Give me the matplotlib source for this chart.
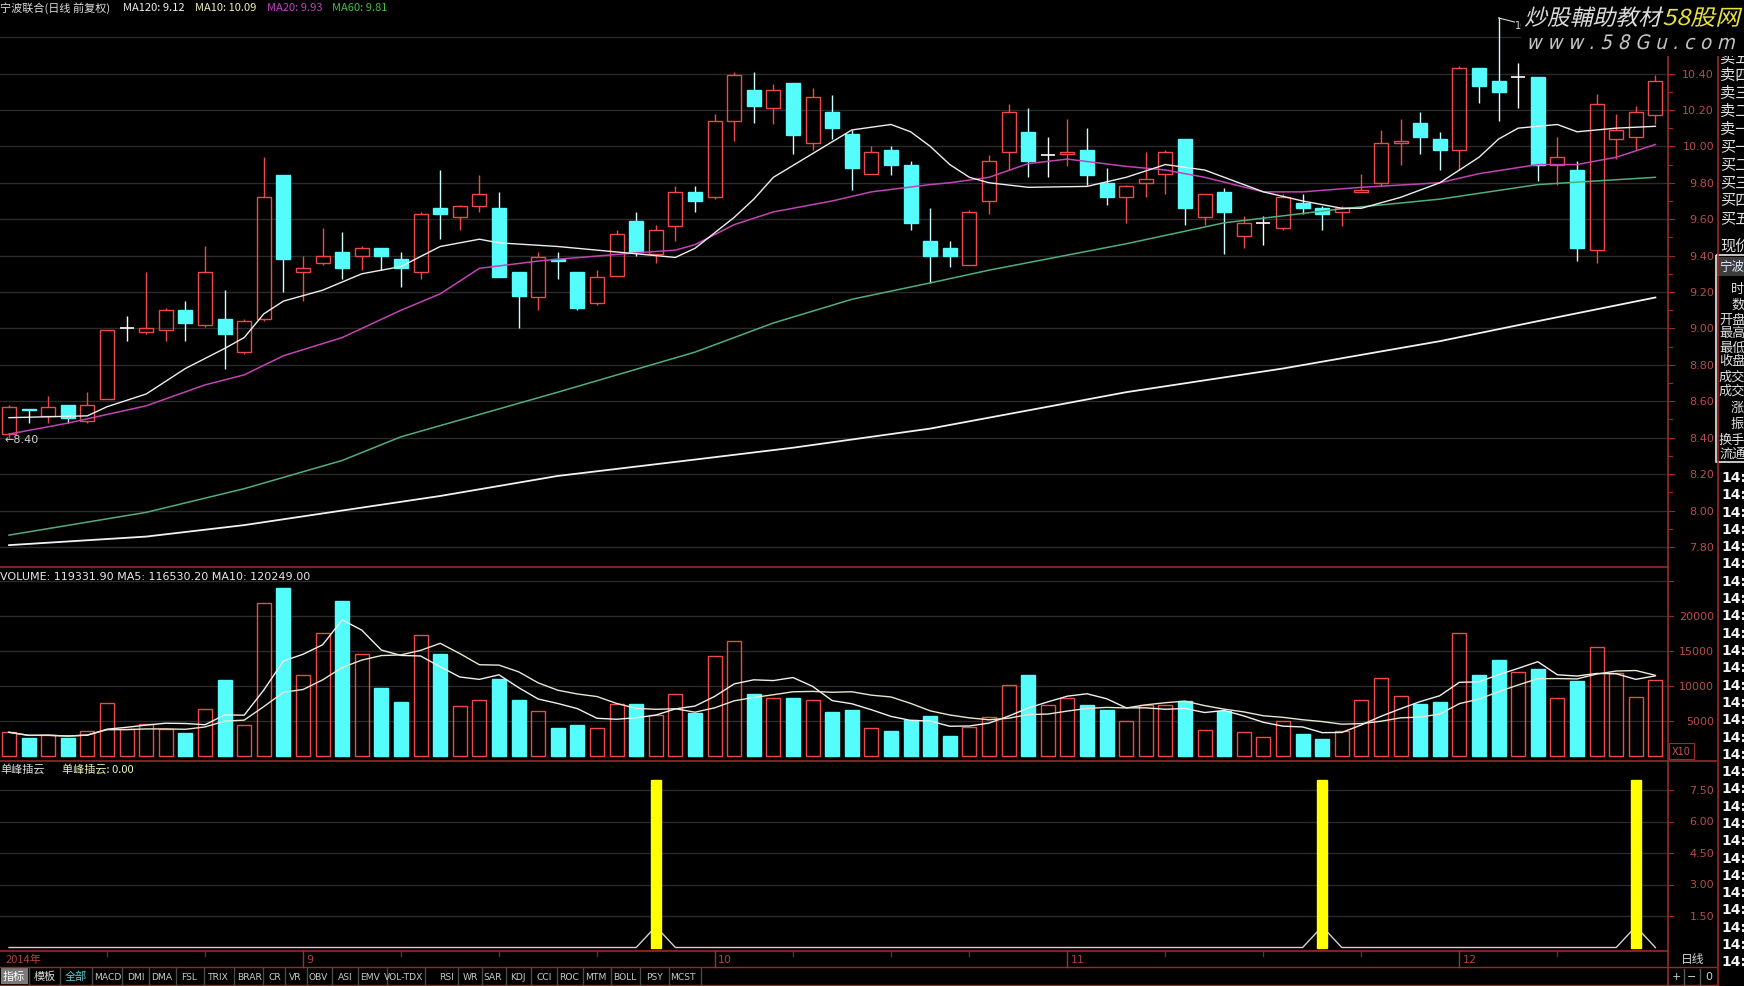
import numpy as np
import pandas as pd
import matplotlib
matplotlib.use('Agg')
import matplotlib.pyplot as plt
import matplotlib.transforms as mtransforms
from matplotlib.patches import Rectangle, PathPatch
from matplotlib.lines import Line2D
from matplotlib.textpath import TextPath
from matplotlib.font_manager import FontProperties

plt.rcParams['font.family'] = ['Noto Sans CJK SC', 'DejaVu Sans']

# ---------------- data ----------------
opens = [8.42, 8.56, 8.52, 8.58, 8.49, 8.61, 9.00, 8.98, 8.99, 9.10,
         9.02, 9.05, 8.87, 9.05, 9.84, 9.31, 9.36, 9.42, 9.40, 9.44,
         9.38, 9.31, 9.66, 9.61, 9.67, 9.66, 9.31, 9.17, 9.38, 9.31,
         9.14, 9.29, 9.59, 9.41, 9.56, 9.75, 9.72, 10.14, 10.31, 10.21,
         10.35, 10.02, 10.19, 10.07, 9.85, 9.98, 9.90, 9.48, 9.44, 9.35,
         9.70, 9.97, 10.08, 9.95, 9.96, 9.98, 9.80, 9.72, 9.80, 9.85,
         10.04, 9.61, 9.75, 9.51, 9.58, 9.55, 9.69, 9.66, 9.64, 9.75,
         9.80, 10.02, 10.13, 10.04, 9.98, 10.43, 10.36, 10.38, 10.38, 9.90,
         9.87, 9.43, 10.04, 10.05, 10.17]
highs = [8.58, 8.56, 8.63, 8.58, 8.65, 8.99, 9.07, 9.31, 9.11, 9.15,
         9.45, 9.21, 9.05, 9.94, 9.84, 9.40, 9.55, 9.53, 9.45, 9.44,
         9.42, 9.64, 9.87, 9.68, 9.84, 9.75, 9.31, 9.42, 9.42, 9.31,
         9.32, 9.54, 9.64, 9.57, 9.78, 9.78, 10.18, 10.41, 10.41, 10.34,
         10.35, 10.32, 10.28, 10.09, 10.00, 10.00, 9.92, 9.66, 9.48, 9.65,
         9.95, 10.23, 10.21, 10.05, 10.15, 10.10, 9.88, 9.79, 9.97, 9.98,
         10.04, 9.74, 9.77, 9.62, 9.62, 9.74, 9.74, 9.67, 9.67, 9.85,
         10.09, 10.15, 10.19, 10.08, 10.44, 10.43, 10.71, 10.46, 10.38, 10.05,
         9.92, 10.29, 10.18, 10.22, 10.39]
lows = [8.40, 8.48, 8.48, 8.48, 8.48, 8.61, 8.93, 8.97, 8.93, 8.93,
        9.01, 8.78, 8.86, 9.04, 9.20, 9.15, 9.35, 9.27, 9.32, 9.32,
        9.23, 9.27, 9.49, 9.54, 9.64, 9.28, 9.00, 9.10, 9.27, 9.10,
        9.13, 9.29, 9.40, 9.36, 9.48, 9.64, 9.71, 10.03, 10.13, 10.12,
        9.96, 9.98, 10.04, 9.76, 9.85, 9.84, 9.54, 9.25, 9.34, 9.35,
        9.63, 9.87, 9.83, 9.83, 9.89, 9.79, 9.68, 9.58, 9.72, 9.74,
        9.57, 9.57, 9.41, 9.44, 9.46, 9.54, 9.63, 9.54, 9.56, 9.75,
        9.78, 9.90, 9.96, 9.87, 9.87, 10.24, 10.14, 10.21, 9.81, 9.79,
        9.37, 9.36, 9.93, 9.98, 10.12]
closes = [8.57, 8.55, 8.57, 8.51, 8.58, 8.99, 9.00, 9.00, 9.10, 9.03,
          9.31, 8.97, 9.04, 9.72, 9.38, 9.33, 9.40, 9.33, 9.44, 9.40,
          9.33, 9.63, 9.63, 9.67, 9.74, 9.28, 9.18, 9.39, 9.37, 9.11,
          9.28, 9.52, 9.42, 9.54, 9.75, 9.70, 10.14, 10.39, 10.22, 10.31,
          10.06, 10.27, 10.10, 9.88, 9.97, 9.90, 9.58, 9.40, 9.40, 9.64,
          9.92, 10.19, 9.92, 9.95, 9.97, 9.84, 9.72, 9.78, 9.82, 9.97,
          9.66, 9.74, 9.64, 9.58, 9.58, 9.72, 9.66, 9.63, 9.66, 9.76,
          10.02, 10.03, 10.05, 9.98, 10.43, 10.33, 10.30, 10.38, 9.90, 9.94,
          9.44, 10.23, 10.09, 10.19, 10.36]
# volume in axis units (x10)
volumes = [3390, 2510, 2990, 2510, 3530, 7600, 3870, 4550, 3870, 3320,
           6720, 10850, 4410, 21840, 24020, 11530, 17640, 22180, 14520, 9770,
           7730, 17230, 14520, 7190, 8070, 10990, 8070, 6380, 4000, 4410,
           4070, 7390, 7460, 5900, 8820, 6110, 14250, 16420, 8820, 8280,
           8280, 7940, 6240, 6580, 4000, 3530, 5090, 5770, 2850, 4210,
           5560, 10110, 11530, 7260, 8280, 7260, 6580, 5020, 7260, 7260,
           7800, 3730, 6450, 3390, 2710, 5020, 3190, 2370, 3530, 8070,
           11190, 8620, 7460, 7730, 17640, 11530, 13700, 12010, 12480, 8280,
           10650, 15540, 11800, 8480, 10790]

# moving-average lines (candle index, value)
ma10_idx = [0, 2, 4, 5, 7, 9, 11, 12, 13, 14, 16, 18, 20, 22, 24, 25, 28, 30, 32, 34,
            35, 37, 38, 39, 41, 43, 45, 46, 47, 48, 49, 50, 52, 55, 57, 59, 61, 64, 66, 68,
            69, 71, 73, 75, 76, 77, 79, 80, 82, 84]
ma10_val = [8.51, 8.515, 8.52, 8.57, 8.64, 8.78, 8.89, 8.95, 9.08, 9.15, 9.21, 9.30, 9.34, 9.45, 9.49, 9.47, 9.45, 9.43, 9.41, 9.39,
            9.44, 9.61, 9.71, 9.83, 9.96, 10.09, 10.12, 10.08, 10.00, 9.90, 9.83, 9.80, 9.775, 9.78, 9.83, 9.90, 9.87, 9.75, 9.70, 9.66,
            9.66, 9.72, 9.80, 9.94, 10.04, 10.10, 10.12, 10.08, 10.10, 10.11]
ma20_idx = [0, 3, 7, 10, 12, 14, 17, 20, 22, 24, 27, 28, 32, 34, 35, 37, 39, 42, 44, 47,
            48, 50, 52, 54, 57, 59, 61, 64, 66, 69, 73, 75, 78, 80, 82, 84]
ma20_val = [8.42, 8.48, 8.575, 8.69, 8.745, 8.85, 8.95, 9.10, 9.19, 9.33, 9.37, 9.38, 9.415, 9.43, 9.46, 9.57, 9.64, 9.70, 9.75, 9.79,
            9.80, 9.83, 9.905, 9.93, 9.89, 9.87, 9.83, 9.75, 9.75, 9.775, 9.80, 9.85, 9.90, 9.90, 9.94, 10.01]
ma60_idx = [0, 7, 12, 17, 20, 28, 35, 39, 43, 47, 50, 57, 62, 68, 73, 78, 84]
ma60_val = [7.865, 7.99, 8.12, 8.275, 8.405, 8.65, 8.87, 9.03, 9.16, 9.25, 9.32, 9.465, 9.58, 9.657, 9.71, 9.79, 9.83]
ma120_idx = [0, 7, 12, 17, 22, 28, 35, 40, 47, 52, 57, 65, 73, 78, 84]
ma120_val = [7.81, 7.857, 7.92, 8.0, 8.08, 8.19, 8.28, 8.345, 8.45, 8.55, 8.65, 8.78, 8.93, 9.04, 9.17]

signal_idx = [33, 67, 83]
signal_bar_value = 8.0
signal_line_value = 1.0

price_ticks = [7.80, 8.00, 8.20, 8.40, 8.60, 8.80, 9.00, 9.20, 9.40, 9.60, 9.80, 10.00, 10.20, 10.40]
price_grid = price_ticks + [10.60]
vol_ticks = [5000, 10000, 15000, 20000]
ind_ticks = [1.50, 3.00, 4.50, 6.00, 7.50]
month_labels = ['9', '10', '11', '12']
month_idx = [15, 36, 54, 74]
week_idx = [5, 10, 20, 25, 30, 40, 45, 49, 59, 64, 69, 79]

header_parts = ['宁波联合(日线 前复权)', 'MA120: 9.12', 'MA10: 10.09', 'MA20: 9.93', 'MA60: 9.81']
vol_header = 'VOLUME: 119331.90 MA5: 116530.20 MA10: 120249.00'
ind_header = ['单峰插云', '单峰插云: 0.00']
tab_labels = ['指标', '模板', '全部', 'MACD', 'DMI', 'DMA', 'FSL', 'TRIX', 'BRAR', 'CR', 'VR', 'OBV', 'ASI',
              'EMV', 'VOL-TDX', 'RSI', 'WR', 'SAR', 'KDJ', 'CCI', 'ROC', 'MTM', 'BOLL', 'PSY', 'MCST']
quote_rows = ['卖五', '卖四', '卖三', '卖二', '卖一', '买一', '买二', '买三', '买四', '买五']
info_rows = ['时间', '数量', '开盘', '最高', '最低', '收盘', '成交量', '成交额', '涨幅', '振幅', '换手率', '流通股']
tick_time = '14:59'

# ---------------- layout ----------------
N = len(closes)
W, H = 1744, 987
X0, DX = 9.0, 19.6                     # pixel centre of first candle and spacing
XMIN = (0 - X0) / DX
XMAX = (1668 - X0) / DX

RED = '#f04848'
CYAN = '#54fcfc'
BORDER = '#9a2a2a'
GRID = '#2a2a2a'
AXLBL = '#b84c4c'

fig = plt.figure(figsize=(W / 100, H / 100), dpi=100, facecolor='black')
pix = mtransforms.Affine2D().scale(1 / W, -1 / H).translate(0, 1) + fig.transFigure


def add_ax(x0, y0, x1, y1, ylim):
    ax = fig.add_axes([x0 / W, 1 - y1 / H, (x1 - x0) / W, (y1 - y0) / H])
    ax.set_facecolor('black')
    ax.axis('off')
    ax.set_xlim(XMIN, XMAX)
    ax.set_ylim(*ylim)
    return ax


def pline(xs, ys, color, lw=1.0, **kw):
    fig.add_artist(Line2D(xs, ys, transform=pix, color=color, lw=lw, **kw))


def ptext(x, y, s, **kw):
    kw.setdefault('va', 'center')
    kw.setdefault('fontsize', 8)
    fig.text(x, y, s, transform=pix, **kw)


# price panel: pixel 18..568 ; price(y) = 10.40 - (y-74.5)/182.1
def p_at(y):
    return 10.40 - (y - 74.5) / 182.1


ax_p = add_ax(0, 18, 1668, 568, (p_at(568), p_at(18)))
ax_v = add_ax(0, 568, 1668, 762, ((757 - 762) / 35 * 5000, (757 - 568) / 35 * 5000))
ax_i = add_ax(0, 762, 1668, 952, ((948.5 - 952) / 21, (948.5 - 762) / 21))

for lv in price_grid:
    ax_p.axhline(lv, color=GRID, lw=1, zorder=0)
for lv in vol_ticks + [25000]:
    ax_v.axhline(lv, color=GRID, lw=1, zorder=0)
for lv in ind_ticks:
    ax_i.axhline(lv, color=GRID, lw=1, zorder=0)

# candles
bw = 0.72
for i in range(N):
    o, h, l, c = opens[i], highs[i], lows[i], closes[i]
    if c > o:
        col = RED
        ax_p.vlines(i, c, h, color=col, lw=1, zorder=3)
        ax_p.vlines(i, l, o, color=col, lw=1, zorder=3)
        ax_p.add_patch(Rectangle((i - bw / 2, o), bw, c - o, fill=False, edgecolor=col, lw=1, zorder=3))
    elif c < o:
        col = CYAN
        ax_p.vlines(i, l, h, color='#c8ffff', lw=1, zorder=2)
        ax_p.add_patch(Rectangle((i - bw / 2, c), bw, o - c, facecolor=col, edgecolor=col, lw=1, zorder=3))
    else:
        ax_p.vlines(i, l, h, color='white', lw=1, zorder=3)
        ax_p.hlines(o, i - bw / 2, i + bw / 2, color='white', lw=1.2, zorder=3)

# moving averages
ax_p.plot(ma120_idx, ma120_val, color='#f2f2f2', lw=1.3, zorder=4)
ax_p.plot(ma60_idx, ma60_val, color='#4fae7c', lw=1.1, zorder=4)
ax_p.plot(ma20_idx, ma20_val, color='#c244b4', lw=1.1, zorder=4)
ax_p.plot(ma10_idx, ma10_val, color='#eeeeee', lw=1.0, zorder=4)

# low / high markers
lo_i = int(np.argmin(lows))
hi_i = int(np.argmax(highs))
ptext(4, 440, '←%.2f' % lows[lo_i], color='#d0d0d0', fontsize=8, family='DejaVu Sans')
hx = X0 + DX * hi_i
pline([hx, hx + 16], [19, 23], '#d8d8d8', lw=0.8)
ptext(hx + 16, 26, '%.2f' % highs[hi_i], color='#d8d8d8', fontsize=7, family='DejaVu Sans')

# volume
idx = np.arange(N)
for i in range(N):
    if closes[i] >= opens[i]:
        ax_v.add_patch(Rectangle((i - bw / 2, 0), bw, volumes[i], fill=False, edgecolor=RED, lw=1, zorder=3))
    else:
        ax_v.add_patch(Rectangle((i - bw / 2, 0), bw, volumes[i], facecolor=CYAN, edgecolor=CYAN, lw=1, zorder=3))
vs = pd.Series(volumes, dtype=float)
ax_v.plot(idx, vs.rolling(5, min_periods=1).mean(), color='#f0f0f0', lw=1, zorder=4)
ax_v.plot(idx, vs.rolling(10, min_periods=1).mean(), color='#e8e8d0', lw=1, zorder=4)

# indicator
ind_line = [signal_line_value if i in signal_idx else 0.0 for i in range(N)]
ax_i.plot(idx, ind_line, color='#d0d0d0', lw=1, zorder=3)
ax_i.bar(signal_idx, [signal_bar_value] * len(signal_idx), width=0.5, bottom=0,
         color='#ffff00', edgecolor='#ffff00', zorder=4)

# ---------------- axis labels ----------------
tp = mtransforms.blended_transform_factory(pix, ax_p.transData)
tv = mtransforms.blended_transform_factory(pix, ax_v.transData)
ti = mtransforms.blended_transform_factory(pix, ax_i.transData)
for lv in price_ticks:
    fig.text(1714, lv, '%.2f' % lv, transform=tp, ha='right', va='center', fontsize=8,
             color=AXLBL, family='DejaVu Sans')
for k in range(int(7.8 * 10), int(10.7 * 10) + 1):
    lv = k / 10
    fig.add_artist(Line2D([1668, 1672 if k % 2 else 1674], [lv, lv], transform=tp, color=BORDER, lw=0.8))
for lv in vol_ticks:
    fig.text(1714, lv, '%d' % lv, transform=tv, ha='right', va='center', fontsize=8,
             color=AXLBL, family='DejaVu Sans')
for k in range(1, 6):
    fig.add_artist(Line2D([1668, 1673], [k * 5000, k * 5000], transform=tv, color=BORDER, lw=0.8))
for lv in ind_ticks:
    fig.text(1714, lv, '%.2f' % lv, transform=ti, ha='right', va='center', fontsize=8,
             color=AXLBL, family='DejaVu Sans')
    fig.add_artist(Line2D([1668, 1673], [lv, lv], transform=ti, color=BORDER, lw=0.8))

# X10 box
fig.add_artist(Rectangle((1669, 744), 25, 16, transform=pix, fill=False, edgecolor=BORDER, lw=0.8))
ptext(1681, 752, 'X10', color='#c05858', fontsize=7, ha='center', family='DejaVu Sans')

# ---------------- frame lines ----------------
pline([0, 1668], [568, 568], BORDER, lw=1.2)
pline([0, 1716], [762, 762], BORDER, lw=1.2)
pline([0, 1668], [952, 952], BORDER, lw=1.2)
pline([0, 1716], [968, 968], BORDER, lw=1.0)
pline([0, 1716], [986, 986], BORDER, lw=1.0)
pline([1668, 1668], [57, 987], BORDER, lw=1.2)
pline([1718, 1718], [57, 987], BORDER, lw=1.2)

# ---------------- date row ----------------
ptext(6, 960, '2014年', color='#b04040', fontsize=8)
for lab, mi in zip(month_labels, month_idx):
    x = X0 + DX * mi
    pline([x, x], [952, 968], '#a03030', lw=1)
    ptext(x + 3, 960, lab, color='#b04040', fontsize=8, family='DejaVu Sans')
for wi in week_idx:
    x = X0 + DX * wi
    pline([x, x], [952, 957], '#7a2424', lw=1)

# ---------------- tab row ----------------
tab_centers = [14, 44.5, 75.6, 108, 136, 162, 189, 218, 250, 275, 295, 318, 345, 370, 404,
               446, 470, 493, 518, 544, 569, 596, 625, 655, 683]
edges = [0] + [(tab_centers[k] + tab_centers[k + 1]) / 2 for k in range(len(tab_centers) - 1)] + [701]
fig.add_artist(Rectangle((1, 969), edges[1] - 2, 16, transform=pix, facecolor='#7a7a7a', edgecolor='none'))
for k, (lab, cx) in enumerate(zip(tab_labels, tab_centers)):
    pline([edges[k + 1], edges[k + 1]], [969, 985], '#4a4a4a', lw=1)
    if k < 3:
        colr = '#ffffff' if k == 0 else ('#4fd0d0' if k == 2 else '#d8d8d8')
        ptext(cx, 977, lab, color=colr, fontsize=8, ha='center')
    else:
        ptext(cx, 977, lab, color='#c8c8c8', fontsize=6.6, ha='center', family='DejaVu Sans')

# bottom right controls
ptext(1693, 960, '日线', color='#d8d8d8', fontsize=8.5, ha='center')
for s, x in zip(['+', '−', '0'], [1676, 1692, 1709]):
    ptext(x, 977, s, color='#d0d0d0', fontsize=8, ha='center', family='DejaVu Sans')
for x in [1684, 1700]:
    pline([x, x], [970, 985], '#5a5a5a', lw=1)

# ---------------- headers ----------------
hx_pos = [0, 123, 195, 267, 332]
hcol = ['#dcdcdc', '#eeeeee', '#f0f0b8', '#c040c0', '#44c044']
for s, x, c in zip(header_parts, hx_pos, hcol):
    ptext(x, 8, s, color=c, fontsize=8)
ptext(0, 577, vol_header, color='#e8e8e8', fontsize=8, family='DejaVu Sans')
ptext(0, 769, ind_header[0], color='#dcdcdc', fontsize=8)
ptext(62, 769, ind_header[1], color='#f0f0b8', fontsize=8)

# ---------------- right side panel ----------------
qy = [58 + 17.8 * k for k in range(len(quote_rows))]
for s, y in zip(quote_rows, qy):
    ptext(1720, y, s, color='#e0e0e0', fontsize=11)
ptext(1720, 246, '现价', color='#e0e0e0', fontsize=11)
fig.add_artist(Rectangle((1716, 256), 40, 207, transform=pix, fill=False, edgecolor='#e8e8e8', lw=1.2))
fig.add_artist(Rectangle((1717, 258), 30, 19, transform=pix, facecolor='#3c3c3c', edgecolor='none'))
ptext(1719, 267, '宁波联合', color='#e0e8ff', fontsize=9)
iy = [290, 305, 320, 334, 348, 362, 377, 392, 408, 424, 440, 454]
for s, y in zip(info_rows, iy):
    xx = 1731 if s in ('时间', '数量', '涨幅', '振幅') else 1719
    ptext(xx, y, s, color='#e0e0e0', fontsize=9.5)
for k in range(29):
    ptext(1721, 478 + 17.3 * k, tick_time, color='#f4f4f4', fontsize=10, fontweight='bold',
          family='DejaVu Sans')

# ---------------- watermark ----------------
fig.add_artist(Rectangle((1521, 0), 223, 56.5, transform=pix, facecolor='black', edgecolor='none', zorder=5))


def skew_text(s, x0, x1, baseline, size, color, family, skew=14):
    tpath = TextPath((0, 0), s, size=size, prop=FontProperties(family=family))
    ext = tpath.get_extents()
    sx = (x1 - x0) / ext.width
    tr = (mtransforms.Affine2D().translate(-ext.x0, 0).scale(sx, 1)
          .skew_deg(skew, 0).scale(1, -1).translate(x0, baseline))
    path = tr.transform_path(tpath)
    fig.add_artist(PathPatch(path, facecolor=color, edgecolor='none', transform=pix, zorder=6))


skew_text('炒股輔助教材', 1525, 1660, 26, 22, '#dcdcdc', 'Noto Sans CJK SC')
skew_text('58股网', 1663, 1738, 26, 22, '#e6e040', 'Noto Sans CJK SC')
skew_text('w w w . 5 8 G u . c o m', 1527, 1733, 50, 20, '#c4c4c4', 'DejaVu Sans')

fig.savefig('out.png', dpi=100, facecolor='black')
